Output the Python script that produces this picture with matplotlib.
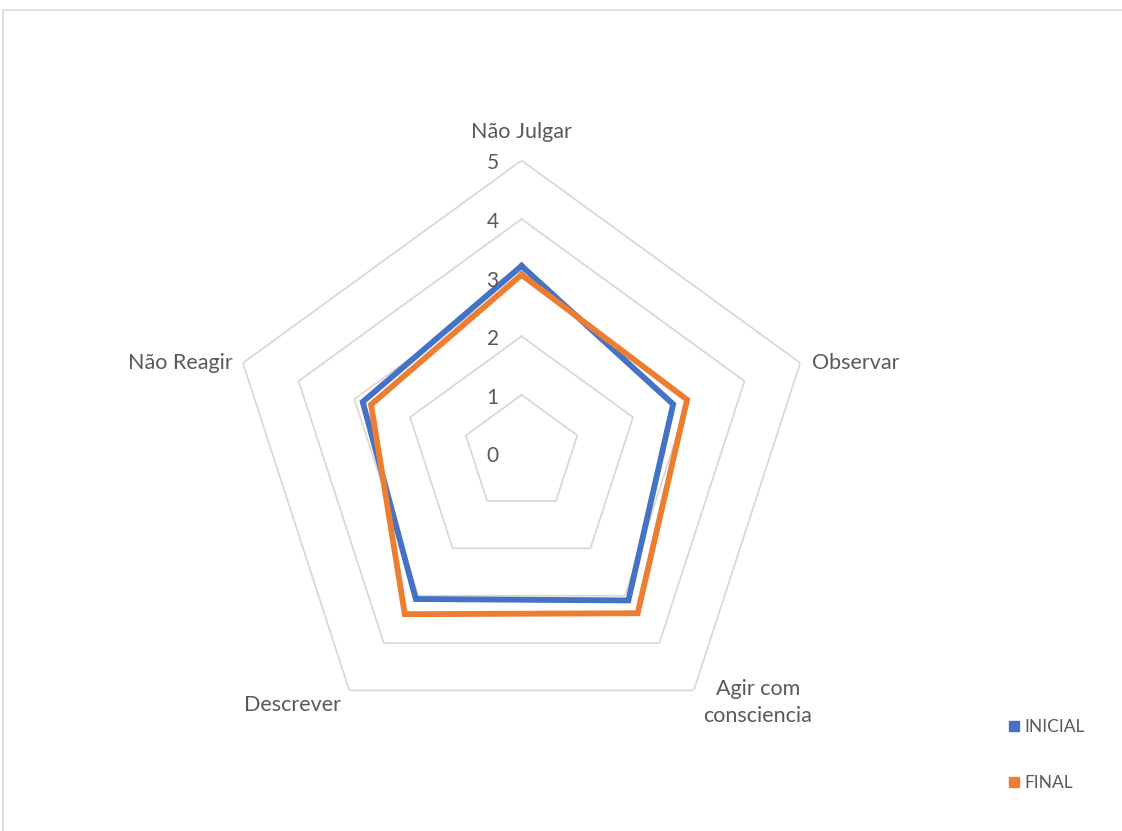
import numpy as np
import matplotlib.pyplot as plt
from matplotlib.lines import Line2D
from matplotlib.patches import Rectangle

categories = ["Não Julgar", "Observar", "Agir com\nconsciencia", "Descrever", "Não Reagir"]
inicial = [3.2, 2.72, 3.1, 3.07, 2.85]
final = [3.05, 2.97, 3.37, 3.39, 2.7]
rings = [1, 2, 3, 4, 5]
tick_labels = ["0", "1", "2", "3", "4", "5"]

blue = "#4472C4"
orange = "#ED7D31"
grey_txt = "#595959"
grid_col = "#d9d9d9"

plt.rcParams['font.family'] = ['Lato', 'DejaVu Sans']

fig = plt.figure(figsize=(11.22, 8.31), dpi=100)
# outer chart border
fig.patches.append(Rectangle((3 / 1122, -0.1), 1.2, 1.1 - 10 / 831, transform=fig.transFigure,
                             fill=False, edgecolor=grid_col, linewidth=1.2))

ax = fig.add_axes([0.2037, 0.1017, 0.5223, 0.7052], projection='polar')
ax.set_theta_offset(np.pi / 2)
ax.set_theta_direction(-1)
ax.set_ylim(0, 5)
ax.grid(False)
ax.spines['polar'].set_visible(False)
ax.set_xticks([])
ax.set_yticks([])
ax.patch.set_alpha(0)

n = len(categories)
ang = np.linspace(0, 2 * np.pi, n, endpoint=False)
ang_c = np.append(ang, ang[0])

for r in rings:
    ax.plot(ang_c, [r] * (n + 1), color=grid_col, lw=1.3, zorder=1)

ax.plot(ang_c, inicial + inicial[:1], color=blue, lw=4.2, solid_joinstyle='miter', zorder=3)
ax.plot(ang_c, final + final[:1], color=orange, lw=4.2, solid_joinstyle='miter', zorder=4)

# radial value labels along the top spoke
for i, t in enumerate(tick_labels):
    ax.annotate(t, xy=(0, i), xytext=(-35, -3), textcoords='offset pixels',
                ha='left', va='center', fontsize=15, color=grey_txt)

# category labels
offsets = [(0, 18), (12, 0), (64, 12), (-8, -14), (-10, 0)]
aligns = [('center', 'bottom'), ('left', 'center'), ('center', 'top'), ('right', 'center'), ('right', 'center')]
for i, lab in enumerate(categories):
    ha, va = aligns[i]
    dx, dy = offsets[i]
    ax.annotate(lab, xy=(ang[i], 5), xytext=(dx, dy), textcoords='offset pixels',
                ha=ha, va=va, fontsize=15.5, color=grey_txt, linespacing=1.45)

handles = [Line2D([], [], ls='', marker='s', color=blue, markersize=7),
           Line2D([], [], ls='', marker='s', color=orange, markersize=7)]
fig.legend(handles, ["INICIAL", "FINAL"], loc='upper left', bbox_to_anchor=(0.885, 0.154),
           frameon=False, labelspacing=2.3, handlelength=0.6, handletextpad=0.3,
           fontsize=12.5, labelcolor=grey_txt)

fig.savefig("out.png", dpi=100)
